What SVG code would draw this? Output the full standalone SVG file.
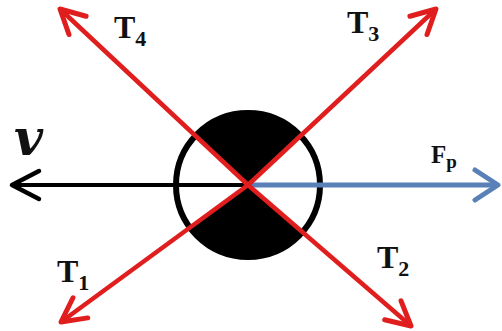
<svg xmlns="http://www.w3.org/2000/svg" width="502" height="331" viewBox="0 0 502 331">
<style>
.red{stroke:#e01e1e;stroke-width:4.5;fill:none}
.lbl{font-family:"Liberation Serif",serif;font-weight:bold;fill:#111}
.t{font-size:32px}
.s{font-size:22px}
</style>
<defs>
<marker id="ar" markerUnits="userSpaceOnUse" markerWidth="40" markerHeight="40" viewBox="-30 -20 40 40" refX="0" refY="0" orient="auto" overflow="visible">
<path d="M-24,-12.5 L0,0 L-24,12.5" fill="none" stroke="#e01e1e" stroke-width="5" stroke-linecap="round" stroke-linejoin="round"/>
</marker>
<marker id="ak" markerUnits="userSpaceOnUse" markerWidth="40" markerHeight="40" viewBox="-30 -20 40 40" refX="0" refY="0" orient="auto" overflow="visible">
<path d="M-27,-14 L0,0 L-27,14" fill="none" stroke="#000" stroke-width="4.5" stroke-linecap="round" stroke-linejoin="round"/>
</marker>
<marker id="ab" markerUnits="userSpaceOnUse" markerWidth="40" markerHeight="40" viewBox="-30 -20 40 40" refX="0" refY="0" orient="auto" overflow="visible">
<path d="M-23,-15 L0,0 L-23,15" fill="none" stroke="#5a80b8" stroke-width="5" stroke-linecap="round" stroke-linejoin="round"/>
</marker>
</defs>
<g id="body">
<path d="M248,185 L195.3,135.9 A72,72 0 0 1 300.6,135.8 Z" fill="#000"/>
<path d="M248,185 L190,227.6 A72,72 0 0 0 302.4,232.1 Z" fill="#000"/>
<circle cx="248" cy="185" r="72" fill="none" stroke="#000" stroke-width="6"/>
</g>
<g id="connectors">
<line x1="248" y1="185" x2="12" y2="185" stroke="#000" stroke-width="4" marker-end="url(#ak)"/>
<line x1="248" y1="185" x2="498" y2="185" stroke="#5a80b8" stroke-width="5" marker-end="url(#ab)"/>
<line class="red" x1="248" y1="185" x2="60" y2="9" marker-end="url(#ar)"/>
<line class="red" x1="248" y1="185" x2="436" y2="9" marker-end="url(#ar)"/>
<line class="red" x1="248" y1="185" x2="61" y2="322" marker-end="url(#ar)"/>
<line class="red" x1="248" y1="185" x2="411" y2="326" marker-end="url(#ar)"/>
</g>
<g id="label-T4"><text class="lbl" x="114" y="38"><tspan class="t">T</tspan><tspan class="s" dy="8">4</tspan></text></g>
<g id="label-T3"><text class="lbl" x="347" y="33"><tspan class="t">T</tspan><tspan class="s" dy="8">3</tspan></text></g>
<g id="label-T1"><text class="lbl" x="57" y="282"><tspan class="t">T</tspan><tspan class="s" dy="8">1</tspan></text></g>
<g id="label-T2"><text class="lbl" x="377" y="268"><tspan class="t">T</tspan><tspan class="s" dy="8">2</tspan></text></g>
<g id="label-Fp"><text class="lbl" x="431" y="163"><tspan style="font-size:25px">F</tspan><tspan style="font-size:19px" dy="5">p</tspan></text></g>
<g id="label-v"><text x="14" y="155" style="font-family:'DejaVu Serif',serif;font-style:italic;font-weight:bold;font-size:50px" fill="#111">v</text></g>
</svg>
